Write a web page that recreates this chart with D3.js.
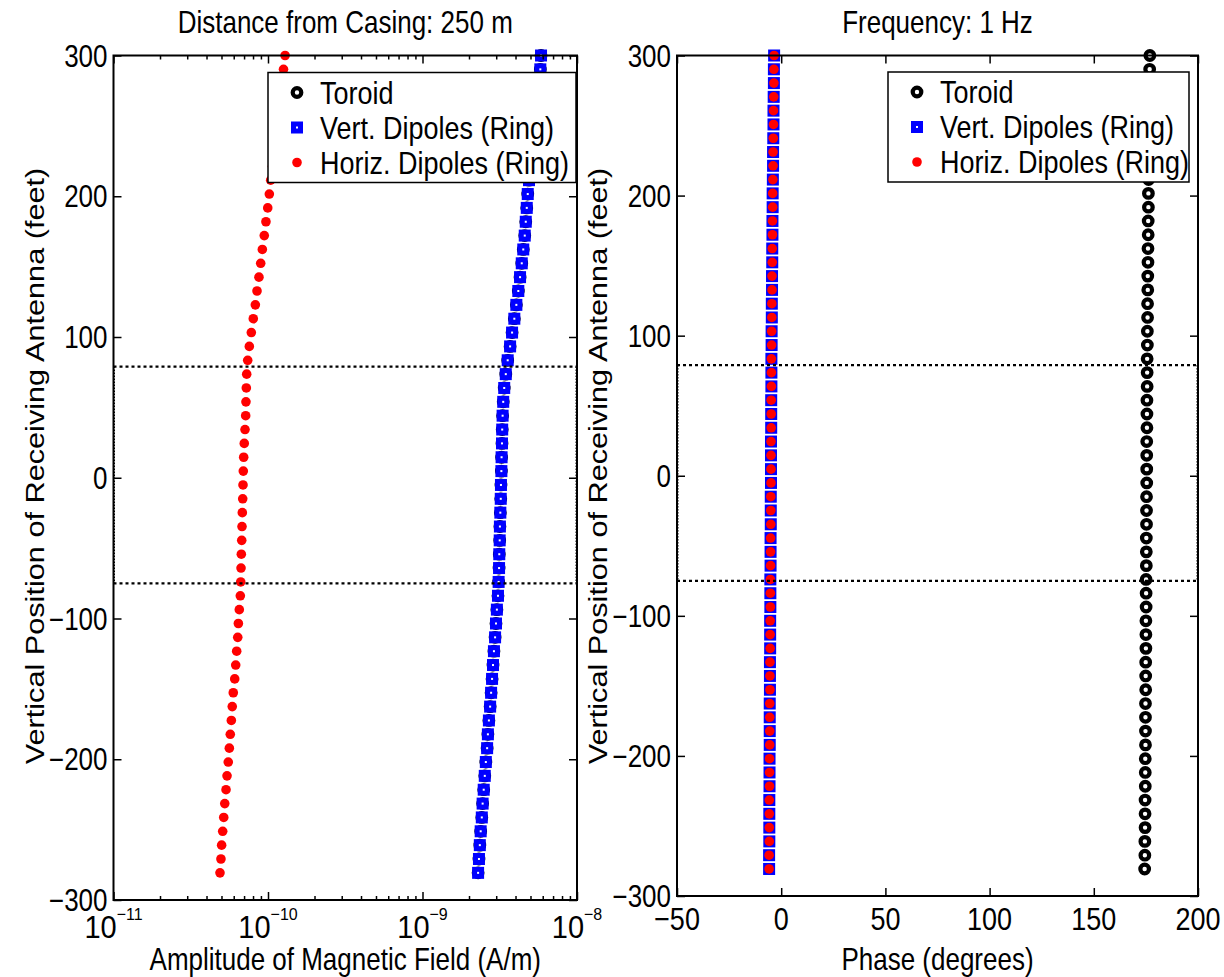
<!DOCTYPE html>
<html><head><meta charset="utf-8">
<script src="https://cdn.jsdelivr.net/npm/d3@7"></script>
<style>
body{margin:0;background:#fff}
text{font-family:"Liberation Sans",Arial,Helvetica,sans-serif;fill:#000}
</style>
</head><body>
<svg id="c" width="1224" height="977"></svg>
<script>
// ---------------- DATA ----------------
const depthFt = [300.00,290.16,280.31,270.47,260.63,250.79,240.94,231.10,221.26,211.42,
201.57,191.73,181.89,172.05,162.20,152.36,142.52,132.68,122.83,112.99,
103.15,93.31,83.46,73.62,63.78,53.94,44.09,34.25,24.41,14.57,
4.72,-5.12,-14.96,-24.80,-34.65,-44.49,-54.33,-64.17,-74.02,-83.86,
-93.70,-103.54,-113.39,-123.23,-133.07,-142.91,-152.76,-162.60,-172.44,-182.28,
-192.13,-201.97,-211.81,-221.65,-231.50,-241.34,-251.18,-261.02,-270.87,-280.71];

const toroidAmp = [5.85e-9,5.79e-9,5.68e-9,5.58e-9,5.47e-9,5.35e-9,5.23e-9,5.11e-9,5.00e-9,4.89e-9,
4.80e-9,4.73e-9,4.66e-9,4.59e-9,4.49e-9,4.39e-9,4.28e-9,4.17e-9,4.05e-9,3.93e-9,
3.80e-9,3.69e-9,3.56e-9,3.46e-9,3.38e-9,3.33e-9,3.30e-9,3.28e-9,3.27e-9,3.25e-9,
3.24e-9,3.22e-9,3.21e-9,3.19e-9,3.17e-9,3.16e-9,3.14e-9,3.13e-9,3.11e-9,3.08e-9,
3.03e-9,2.99e-9,2.95e-9,2.90e-9,2.86e-9,2.82e-9,2.78e-9,2.74e-9,2.69e-9,2.65e-9,
2.62e-9,2.57e-9,2.53e-9,2.49e-9,2.45e-9,2.42e-9,2.38e-9,2.35e-9,2.32e-9,2.29e-9];

const vertAmp = [5.85e-9,5.79e-9,5.68e-9,5.58e-9,5.47e-9,5.35e-9,5.23e-9,5.11e-9,5.00e-9,4.89e-9,
4.80e-9,4.73e-9,4.66e-9,4.59e-9,4.49e-9,4.39e-9,4.28e-9,4.17e-9,4.05e-9,3.93e-9,
3.80e-9,3.69e-9,3.56e-9,3.46e-9,3.38e-9,3.33e-9,3.30e-9,3.28e-9,3.27e-9,3.25e-9,
3.24e-9,3.22e-9,3.21e-9,3.19e-9,3.17e-9,3.16e-9,3.14e-9,3.13e-9,3.11e-9,3.08e-9,
3.03e-9,2.99e-9,2.95e-9,2.90e-9,2.86e-9,2.82e-9,2.78e-9,2.74e-9,2.69e-9,2.65e-9,
2.62e-9,2.57e-9,2.53e-9,2.49e-9,2.45e-9,2.42e-9,2.38e-9,2.35e-9,2.32e-9,2.29e-9];

const horizAmp = [1.29e-10,1.26e-10,1.23e-10,1.20e-10,1.175e-10,1.149e-10,1.123e-10,1.098e-10,1.069e-10,1.041e-10,
1.020e-10,9.96e-11,9.70e-11,9.46e-11,9.19e-11,8.97e-11,8.74e-11,8.49e-11,8.28e-11,8.03e-11,
7.80e-11,7.57e-11,7.39e-11,7.28e-11,7.24e-11,7.20e-11,7.17e-11,7.10e-11,7.02e-11,6.96e-11,
6.92e-11,6.89e-11,6.86e-11,6.82e-11,6.79e-11,6.76e-11,6.72e-11,6.69e-11,6.66e-11,6.62e-11,
6.52e-11,6.43e-11,6.37e-11,6.27e-11,6.18e-11,6.09e-11,5.96e-11,5.87e-11,5.79e-11,5.70e-11,
5.62e-11,5.53e-11,5.43e-11,5.35e-11,5.25e-11,5.17e-11,5.09e-11,5.01e-11,4.96e-11,4.89e-11];

const toroidPhase = [176.9,176.8,176.8,176.7,176.6,176.6,176.5,176.4,176.4,176.3,
176.2,176.2,176.1,176.1,176.0,176.0,175.9,175.9,175.8,175.8,
175.7,175.7,175.6,175.6,175.6,175.5,175.5,175.5,175.4,175.4,
175.4,175.4,175.3,175.3,175.3,175.2,175.2,175.2,175.1,175.1,
175.1,175.0,175.0,175.0,174.9,174.9,174.9,174.8,174.8,174.8,
174.8,174.7,174.7,174.7,174.6,174.6,174.6,174.5,174.5,174.4];

const vertPhase = [-3.4,-3.5,-3.5,-3.6,-3.7,-3.7,-3.8,-3.9,-3.9,-4.0,
-4.1,-4.1,-4.2,-4.2,-4.3,-4.3,-4.4,-4.4,-4.5,-4.5,
-4.6,-4.6,-4.7,-4.7,-4.7,-4.8,-4.8,-4.8,-4.9,-4.9,
-4.9,-4.9,-5.0,-5.0,-5.0,-5.1,-5.1,-5.1,-5.2,-5.2,
-5.2,-5.3,-5.3,-5.3,-5.4,-5.4,-5.4,-5.5,-5.5,-5.5,
-5.5,-5.6,-5.6,-5.6,-5.7,-5.7,-5.7,-5.7,-5.8,-5.8];

const horizPhase = [-3.4,-3.5,-3.5,-3.6,-3.7,-3.7,-3.8,-3.9,-3.9,-4.0,
-4.1,-4.1,-4.2,-4.2,-4.3,-4.3,-4.4,-4.4,-4.5,-4.5,
-4.6,-4.6,-4.7,-4.7,-4.7,-4.8,-4.8,-4.8,-4.9,-4.9,
-4.9,-4.9,-5.0,-5.0,-5.0,-5.1,-5.1,-5.1,-5.2,-5.2,
-5.2,-5.3,-5.3,-5.3,-5.4,-5.4,-5.4,-5.5,-5.5,-5.5,
-5.5,-5.6,-5.6,-5.6,-5.7,-5.7,-5.7,-5.7,-5.8,-5.8];

const seriesNames = ["Toroid","Vert. Dipoles (Ring)","Horiz. Dipoles (Ring)"];
const ampDecadeExps = [-11,-10,-9,-8];
const phaseTicks = [-50,0,50,100,150,200];
const depthTicks = [-300,-200,-100,0,100,200,300];
const zoneLimits = [79,-75];
const titleLeft = "Distance from Casing: 250 m";
const titleRight = "Frequency: 1 Hz";
const xLabelLeft = "Amplitude of Magnetic Field (A/m)";
const xLabelRight = "Phase (degrees)";
const yLabel = "Vertical Position of Receiving Antenna (feet)";

// ---------------- DRAW ----------------
const svg = d3.select("#c");
const FS = 26, SY = 1.18;
function txt(g, x, y, s, anchor, size, rot) {
  return g.append("text")
    .attr("transform", rot ? `translate(${x},${y}) rotate(-90) scale(${SY},1)` : `translate(${x},${y}) scale(1,${SY})`)
    .attr("text-anchor", anchor || "middle")
    .style("font-size", (size || FS) + "px")
    .text(s);
}

function markerToroid(g, cx, cy) {
  g.append("circle").attr("cx", cx).attr("cy", cy).attr("r", 4.3)
    .attr("fill", "none").attr("stroke", "#000").attr("stroke-width", 4.2);
}
function markerVert(g, cx, cy) {
  const s = 7.0;
  g.append("rect").attr("x", cx - s/2).attr("y", cy - s/2).attr("width", s).attr("height", s)
    .attr("fill", "#fff").attr("stroke", "#0000ff").attr("stroke-width", 5);
}
function markerHoriz(g, cx, cy) {
  g.append("circle").attr("cx", cx).attr("cy", cy).attr("r", 4.8).attr("fill", "#ff0000");
}

function panel(cfg) {
  const g = svg.append("g");
  const x = cfg.x, y = cfg.y;
  const [x0, x1] = x.range(), [yb, yt] = y.range();

  // data
  const gd = g.append("g");
  depthFt.forEach((d, i) => markerToroid(gd, x(cfg.tor[i]), y(d)));
  depthFt.forEach((d, i) => markerVert(gd, x(cfg.ver[i]), y(d)));
  depthFt.forEach((d, i) => markerHoriz(gd, x(cfg.hor[i]), y(d)));

  // dotted zone box
  const zy0 = y(zoneLimits[0]), zy1 = y(zoneLimits[1]);
  [zy0, zy1].forEach(v => g.append("line").attr("x1", x0).attr("x2", x1).attr("y1", v).attr("y2", v)
    .attr("stroke", "#000").attr("stroke-width", 2.2).attr("stroke-dasharray", "3,3"));
  [x0 + 1, x1 - 1].forEach(v => g.append("line").attr("x1", v).attr("x2", v).attr("y1", zy0).attr("y2", zy1)
    .attr("stroke", "#000").attr("stroke-width", 1).attr("stroke-dasharray", "1.5,1.5"));

  // ticks via d3 axes
  function tickAxis(axisGen, tx, ty, vals, size) {
    const a = g.append("g").attr("transform", `translate(${tx},${ty})`)
      .call(axisGen.tickValues(vals).tickSize(size).tickFormat(""));
    a.select(".domain").remove();
    a.selectAll("line").attr("stroke", "#000").attr("stroke-width", 1.5);
  }
  tickAxis(d3.axisTop(x), 0, yb, cfg.xMajor, 8);
  tickAxis(d3.axisBottom(x), 0, yt, cfg.xMajor, 8);
  if (cfg.xMinor) {
    tickAxis(d3.axisTop(x), 0, yb, cfg.xMinor, 4);
    tickAxis(d3.axisBottom(x), 0, yt, cfg.xMinor, 4);
  }
  tickAxis(d3.axisRight(y), x0, 0, depthTicks, 8);
  tickAxis(d3.axisLeft(y), x1, 0, depthTicks, 8);

  // frame
  g.append("rect").attr("x", x0).attr("y", yt).attr("width", x1 - x0).attr("height", yb - yt)
    .attr("fill", "none").attr("stroke", "#000").attr("stroke-width", 2);

  // y tick labels
  depthTicks.forEach(t => txt(g, x0 - 6, y(t) + 11, (t < 0 ? "\u2212" : "") + Math.abs(t), "end"));

  // x tick labels
  cfg.xLabels(g);

  // titles and labels
  txt(g, (x0 + x1) / 2, 33, cfg.title);
  txt(g, (x0 + x1) / 2, 970, cfg.xlabel);
  txt(g, cfg.ylabX, 466, yLabel, "middle", FS, true);

  // legend
  const L = cfg.leg;
  const lg = g.append("g");
  lg.append("rect").attr("x", L[0]).attr("y", L[1]).attr("width", L[2]).attr("height", L[3])
    .attr("fill", "#fff").attr("stroke", "#000").attr("stroke-width", 1.5);
  const rows = [L[1] + 20, L[1] + 55, L[1] + 90];
  markerToroid(lg, L[0] + 29, rows[0]);
  markerVert(lg, L[0] + 29, rows[1]);
  markerHoriz(lg, L[0] + 29, rows[2]);
  seriesNames.forEach((s, i) => txt(lg, L[0] + 52, rows[i] + 11, s, "start", 27));
}

// left panel (log amplitude)
const xL = d3.scaleLog().domain([1e-11, 1e-8]).range([113.5, 577]);
const yL = d3.scaleLinear().domain([-300, 300]).range([900, 55.5]);
const majL = ampDecadeExps.map(e => Math.pow(10, e));
const minL = [];
ampDecadeExps.slice(0, 3).forEach(e => { for (let k = 2; k <= 9; k++) minL.push(k * Math.pow(10, e)); });

panel({
  x: xL, y: yL, tor: toroidAmp, ver: vertAmp, hor: horizAmp,
  xMajor: majL, xMinor: minL,
  title: titleLeft, xlabel: xLabelLeft, ylabX: 44,
  leg: [268, 72.5, 308, 110],
  xLabels: (g) => {
    ampDecadeExps.forEach(e => {
      const cx = xL(Math.pow(10, e));
      const t = g.append("text")
        .attr("transform", `translate(${cx},938) scale(1,1.05)`)
        .attr("text-anchor", "middle").style("font-size", "29px");
      t.append("tspan").text("10");
      t.append("tspan").attr("dy", -17).style("font-size", "16px").text("\u2212" + Math.abs(e));
    });
  }
});

// right panel (phase)
const xR = d3.scaleLinear().domain([-50, 200]).range([677, 1198]);
const yR = d3.scaleLinear().domain([-300, 300]).range([896, 55.5]);
panel({
  x: xR, y: yR, tor: toroidPhase, ver: vertPhase, hor: horizPhase,
  xMajor: phaseTicks, xMinor: null,
  title: titleRight, xlabel: xLabelRight, ylabX: 607,
  leg: [888, 72, 301, 110],
  xLabels: (g) => {
    phaseTicks.forEach(t => txt(g, xR(t), 930, (t < 0 ? "\u2212" : "") + Math.abs(t), "middle", 27));
  }
});
</script>
</body></html>
